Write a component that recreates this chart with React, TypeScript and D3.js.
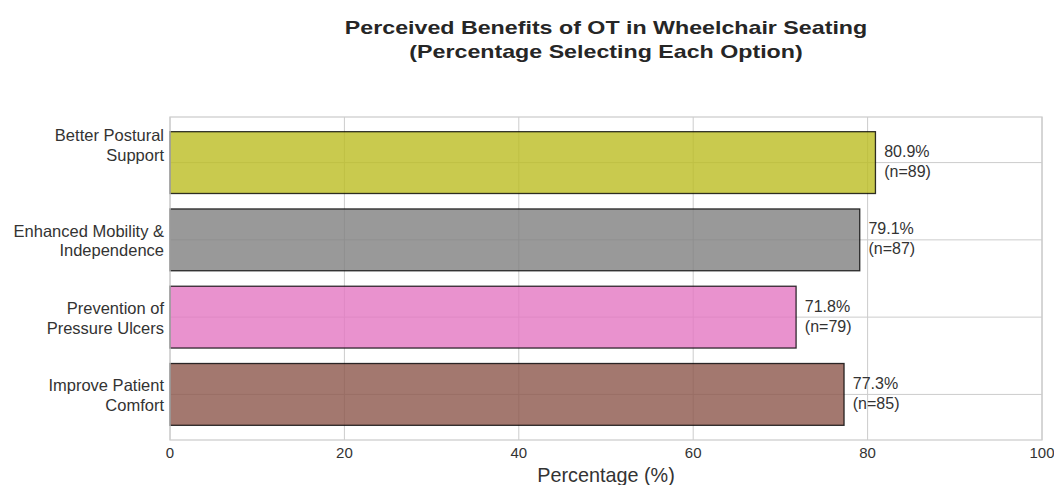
import React from 'react';
import * as d3 from 'd3';

// values
const categories = [
	'Better Postural\nSupport',
	'Enhanced Mobility &\nIndependence',
	'Prevention of\nPressure Ulcers',
	'Improve Patient\nComfort',
];
const percentages = [80.9, 79.1, 71.8, 77.3];
const counts = [89, 87, 79, 85];
const barColors = ['#bcbd22', '#7f7f7f', '#e377c2', '#8c564b'];
const xTicks = [0, 20, 40, 60, 80, 100];
const titleLines = [
	'Perceived Benefits of OT in Wheelchair Seating',
	'(Percentage Selecting Each Option)',
];
const xLabel = 'Percentage (%)';

const width = 1054;
const height = 485;
const plot = { left: 170, right: 1042, top: 117, bottom: 440 };
const font = '"Liberation Sans", Arial, sans-serif';
const titleColor = '#262626';
const labelColor = '#333333';
const gridColor = '#cccccc';

const App: React.FC = () => {
	const x = d3.scaleLinear().domain([0, 100]).range([plot.left, plot.right]);
	const y = d3
		.scaleBand<string>()
		.domain(categories)
		.range([plot.top, plot.bottom])
		.paddingInner(0.2)
		.paddingOuter(0.19);
	const bw = y.bandwidth();
	const centerOf = (c: string) => (y(c) as number) + bw / 2;
	// the first tick label sits higher in the reference
	const tickLabelShift = (i: number) => (i === 0 ? -17.5 : 1);
	const titleCx = (plot.left + plot.right) / 2;

	return (
		<svg
			width={width}
			height={height}
			style={{ position: 'absolute', left: 0, top: 0, background: '#fff' }}
			fontFamily={font}>
			{/* title */}
			{titleLines.map((t, i) => (
				<text
					key={t}
					transform={`translate(${titleCx}, ${33.5 + i * 24}) scale(1.29, 1)`}
					textAnchor='middle'
					fontSize={18}
					fontWeight='bold'
					fill={titleColor}>
					{t}
				</text>
			))}

			{/* grid */}
			{xTicks.map((t) => (
				<line
					key={'gx' + t}
					x1={x(t)}
					x2={x(t)}
					y1={plot.top}
					y2={plot.bottom}
					stroke={gridColor}
					strokeWidth={1}
				/>
			))}
			{categories.map((c) => (
				<line
					key={'gy' + c}
					x1={plot.left}
					x2={plot.right}
					y1={centerOf(c)}
					y2={centerOf(c)}
					stroke={gridColor}
					strokeWidth={1}
				/>
			))}

			{/* bars */}
			{categories.map((c, i) => (
				<rect
					key={'bar' + c}
					x={x(0)}
					y={y(c)}
					width={x(percentages[i]) - x(0)}
					height={bw}
					fill={barColors[i]}
					fillOpacity={0.8}
					stroke='#000'
					strokeOpacity={0.8}
					strokeWidth={1.3}
				/>
			))}

			{/* value labels */}
			{categories.map((c, i) => {
				const cy = centerOf(c);
				const lx = x(percentages[i] + 1);
				return (
					<text key={'val' + c} fontSize={16} fill={labelColor}>
						<tspan x={lx} y={cy - 5.5}>
							{percentages[i].toFixed(1)}%
						</tspan>
						<tspan x={lx} y={cy + 14.5}>
							(n={counts[i]})
						</tspan>
					</text>
				);
			})}

			{/* frame */}
			<rect
				x={plot.left}
				y={plot.top}
				width={plot.right - plot.left}
				height={plot.bottom - plot.top}
				fill='none'
				stroke={gridColor}
				strokeWidth={1.25}
			/>

			{/* y tick labels */}
			{categories.map((c, i) => {
				const lines = c.split('\n');
				const mid = centerOf(c) + tickLabelShift(i);
				return (
					<text
						key={'yl' + c}
						textAnchor='end'
						fontSize={16.5}
						fill={labelColor}>
						{lines.map((ln, j) => (
							<tspan
								key={ln}
								x={plot.left - 6}
								y={mid + (j - (lines.length - 1) / 2) * 19.5 + 5.8}>
								{ln}
							</tspan>
						))}
					</text>
				);
			})}

			{/* x tick labels */}
			{xTicks.map((t) => (
				<text
					key={'xl' + t}
					x={x(t)}
					y={458}
					textAnchor='middle'
					fontSize={15}
					fill={labelColor}>
					{t}
				</text>
			))}

			{/* x axis label */}
			<text
				x={titleCx}
				y={482}
				textAnchor='middle'
				fontSize={19.8}
				fill={labelColor}>
				{xLabel}
			</text>
		</svg>
	);
};

export default App;
